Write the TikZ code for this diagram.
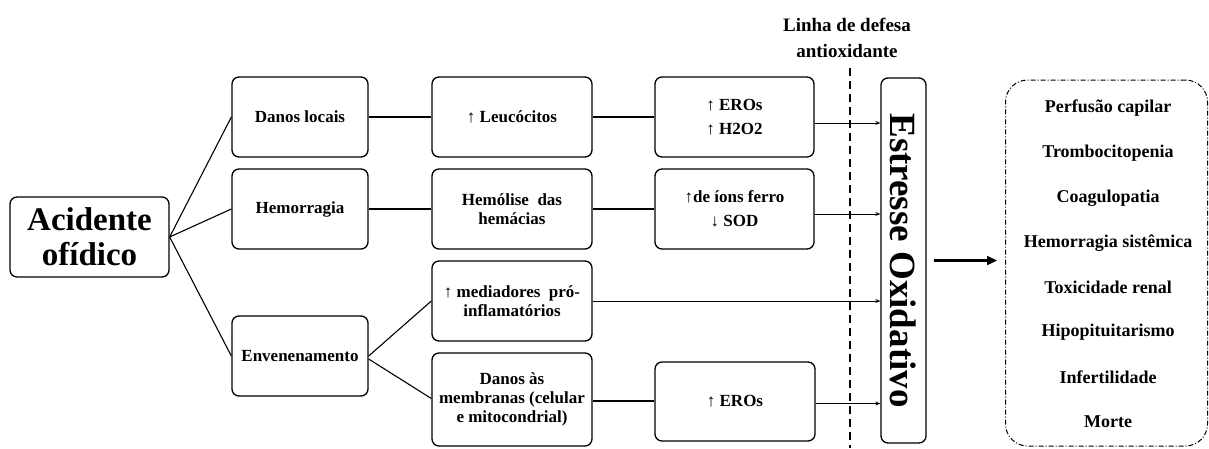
\documentclass[tikz,border=0pt]{standalone}
\usepackage{fontspec}
\setmainfont{Liberation Serif}
\usetikzlibrary{arrows.meta,calc}
\begin{document}
\begin{tikzpicture}[x=1pt,y=-1pt,
  box/.style={draw,line width=1.3pt,rounded corners=7pt,align=center,inner sep=0pt,
    font=\bfseries\fontsize{17}{19}\selectfont},
  conn/.style={line width=1.1pt},
  arr/.style={line width=0.8pt,-{Stealth[length=5pt,width=4pt]}},
  res/.style={font=\bfseries\fontsize{18}{20}\selectfont,inner sep=0pt}
]
\useasboundingbox (0,0) rectangle (1209,448);
% nodes
\node[box,minimum width=159pt,minimum height=80pt,font=\bfseries\fontsize{33}{35}\selectfont] (acid) at (89.5,237) {Acidente\\ofídico};
\node[box,minimum width=136pt,minimum height=80pt] (danos) at (300,117) {Danos locais};
\node[box,minimum width=136pt,minimum height=80pt] (hemo) at (300,209) {Hemorragia};
\node[box,minimum width=136pt,minimum height=80pt] (enven) at (300,356) {Envenenamento};
\node[box,minimum width=160pt,minimum height=80pt] (leuc) at (512,117) {↑ Leucócitos};
\node[box,minimum width=160pt,minimum height=80pt] (hemol) at (512,209) {Hemólise\ \ das\\hemácias};
\node[box,minimum width=160pt,minimum height=80pt] (medi) at (512,301) {↑ mediadores\ \ pró-\\inflamatórios};
\node[box,minimum width=160pt,minimum height=93pt] (memb) at (512,399.5) {Danos às\\membranas (celular\\e mitocondrial)};
\node[box,minimum width=159pt,minimum height=80pt,font=\bfseries\fontsize{17}{24}\selectfont] (eros1) at (734.5,117) {↑ EROs\\↑ H2O2};
\node[box,minimum width=159pt,minimum height=80pt,font=\bfseries\fontsize{17}{24}\selectfont] (ferro) at (734.5,209) {↑de íons ferro\\↓ SOD};
\node[box,minimum width=160pt,minimum height=79pt] (eros2) at (735,401.5) {↑ EROs};
\node[box,minimum width=45pt,minimum height=365pt] (est) at (903.5,260.5) {};
\node[rotate=-90,font=\bfseries\fontsize{37}{37}\selectfont,inner sep=0pt] (esttext) at (est.center) {Estresse Oxidativo};
\node[draw,line width=1pt,rounded corners=22pt,dash pattern=on 5pt off 2pt on 1pt off 2pt,
  minimum width=202pt,minimum height=366pt,inner sep=0pt] (result) at (1106.5,263) {};
\node[font=\bfseries\fontsize{19}{26}\selectfont,align=center,inner sep=0pt] (linha) at (847,38) {Linha de defesa\\antioxidante};
% result texts
\node[res] (r1) at (1108,108) {Perfusão capilar};
\node[res] (r2) at (1108,153) {Trombocitopenia};
\node[res] (r3) at (1108,198) {Coagulopatia};
\node[res] (r4) at (1108,243) {Hemorragia sistêmica};
\node[res] (r5) at (1108,287) {Toxicidade renal};
\node[res] (r6) at (1108,332) {Hipopituitarismo};
\node[res] (r7) at (1108,377) {Infertilidade};
\node[res] (r8) at (1108,422) {Morte};
% connectors
\draw[conn] (acid.east) -- (danos.west);
\draw[conn] (acid.east) -- (hemo.west);
\draw[conn] (acid.east) -- (enven.west);
\draw[conn] (danos.east) -- (leuc.west);
\draw[conn] (leuc.east) -- (eros1.west);
\draw[conn] (hemo.east) -- (hemol.west);
\draw[conn] (hemol.east) -- (ferro.west);
\draw[conn] (enven.east) -- (medi.west);
\draw[conn] ([yshift=-3pt]enven.east) -- ([yshift=1pt]memb.west);
\draw[conn] ([yshift=-1.5pt]memb.east) -- ([yshift=-1.5pt]memb.east -| eros2.west);
\draw[arr] ([yshift=-6pt]eros1.east) -- ([yshift=-6pt]eros1.east -| est.west);
\draw[arr] ([yshift=-5pt]ferro.east) -- ([yshift=-5pt]ferro.east -| est.west);
\draw[arr] (medi.east) -- (medi.east -| est.west);
\draw[arr] ([yshift=-2pt]eros2.east) -- ([yshift=-2pt]eros2.east -| est.west);
% dashed defence line
\coordinate (dtop) at (850,68);
\coordinate (dbot) at (850,448);
\draw[line width=1.8pt,dash pattern=on 8pt off 5pt] (dtop) -- (dbot);
% big arrow
\draw[line width=2.2pt,-{Triangle[length=10pt,width=9pt]}] ([xshift=7pt]est.east) -- ([xshift=-8pt]est.east -| result.west);
\end{tikzpicture}
\end{document}
